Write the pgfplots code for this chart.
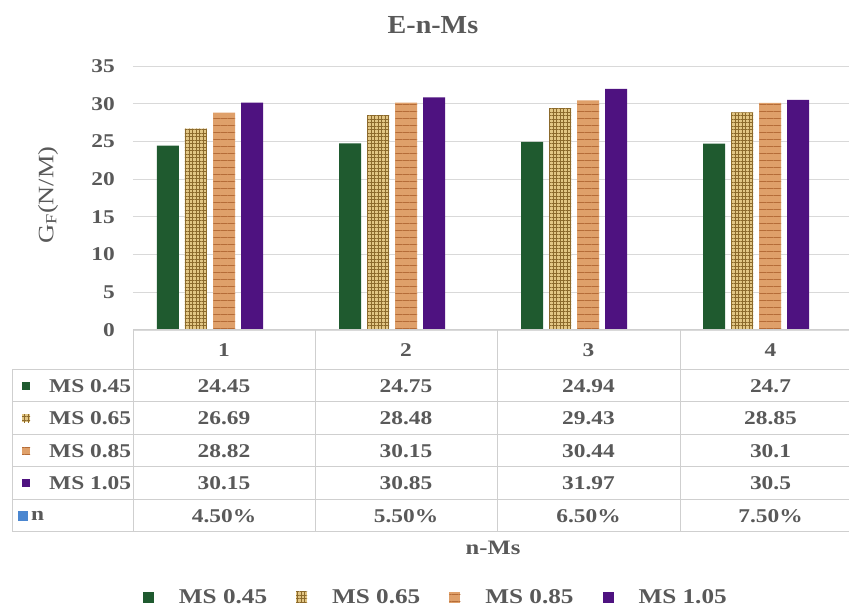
\documentclass[border=0pt]{standalone}
\usepackage{fontspec}
\setmainfont{Liberation Serif}[FakeStretch=1.2]
\newfontfamily\titlefont{Liberation Serif}[FakeStretch=1.08]
\usepackage{pgfplots}
\pgfplotsset{compat=1.18}
\usetikzlibrary{patterns.meta}
\definecolor{txt}{HTML}{595959}
\definecolor{grn}{HTML}{1F5A2F}
\definecolor{bge}{HTML}{E2C684}
\definecolor{bgd}{HTML}{8C6A2C}
\definecolor{org}{HTML}{DFA06A}
\definecolor{ord}{HTML}{B56C38}
\definecolor{prp}{HTML}{4E1280}
\definecolor{grd}{HTML}{D9D9D9}
\definecolor{tbl}{HTML}{CFCFCF}
\definecolor{nblue}{HTML}{4A86D0}
\tikzset{
  s45/.style={fill=grn, draw=none},
  s65/.style={fill=bge, draw=none, postaction={pattern={Hatch[distance=3.5pt,line width=0.9pt]}, pattern color=bgd}},
  s85/.style={fill=org, draw=none, postaction={pattern={Lines[angle=0,distance=7pt,line width=1pt]}, pattern color=ord}},
  s105/.style={fill=prp, draw=none},
}
\newcommand{\tf}{\fontsize{19.5}{21}\selectfont\bfseries}
\begin{document}
\begin{tikzpicture}
\path[use as bounding box] (0pt,0pt) rectangle (849pt,609pt);
\begin{axis}[
  at={(133pt,279pt)}, anchor=south west,
  scale only axis, width=728pt, height=264pt,
  xmin=0.5, xmax=4.5, ymin=0, ymax=35,
  ytick={0,5,...,35}, xtick=\empty,
  ymajorgrids, grid style={grd, line width=0.9pt},
  axis line style={draw=none}, major tick length=0pt,
  /pgf/number format/assume math mode=true,
  yticklabel style={font=\tf, text=txt, anchor=east, inner sep=0pt, xshift=-18pt},
  title={E-n-Ms},
  title style={at={(axis description cs:0.412,1.133)}, anchor=center, font=\titlefont\fontsize{26}{28}\selectfont\bfseries, text=txt},
  ylabel={G\textsubscript{F}(N/M)},
  ylabel style={at={(axis description cs:-0.1168,0.511)}, anchor=center, font=\fontsize{22}{24}\selectfont, text=txt},
  xlabel={n-Ms},
  xlabel style={at={(axis description cs:0.4945,-0.826)}, anchor=center, font=\fontsize{20.5}{22}\selectfont\bfseries, text=txt},
  ybar, bar width=22pt,
  legend columns=4,
  legend image code/.code={\draw[#1, draw=none] (0pt,-5.5pt) rectangle (11pt,5.5pt);},
  legend style={draw=none, fill=none, at={(0.416,-1.012)}, anchor=center,
    font=\fontsize{21}{23}\selectfont\bfseries, text=txt,
    /tikz/every odd column/.append style={column sep=23pt},
    /tikz/every even column/.append style={column sep=27pt}},
]
\addplot[ybar, bar shift=-56pt, s45] coordinates {(1,24.45) (2,24.75) (3,24.94) (4,24.7)};
\addplot[ybar, bar shift=-28pt, s65] coordinates {(1,26.69) (2,28.48) (3,29.43) (4,28.85)};
\addplot[ybar, bar shift=0pt, s85] coordinates {(1,28.82) (2,30.15) (3,30.44) (4,30.1)};
\addplot[ybar, bar shift=28pt, s105] coordinates {(1,30.15) (2,30.85) (3,31.97) (4,30.5)};
\legend{MS 0.45, MS 0.65, MS 0.85, MS 1.05}
\end{axis}
\begin{scope}[x=1pt,y=1pt]
\draw[tbl, line width=1pt] (133,279) -- (861,279);
\foreach \y in {239,207,174,142,109,77} \draw[tbl, line width=1pt] (12,\y) -- (861,\y);
\draw[tbl, line width=1pt] (12,239) -- (12,77);
\foreach \x in {133,315,497,680,861} \draw[tbl, line width=1pt] (\x,279) -- (\x,77);
\foreach \x/\c in {224/1,406/2,588.5/3,770.5/4} \node[text=txt, font=\tf] at (\x,259) {\c};
\foreach \x/\a/\b/\c/\d/\e in {224/24.45/26.69/28.82/30.15/4.50\%, 406/24.75/28.48/30.15/30.85/5.50\%, 588.5/24.94/29.43/30.44/31.97/6.50\%, 770.5/24.7/28.85/30.1/30.5/7.50\%}{
  \node[text=txt, font=\tf] at (\x,223) {\a};
  \node[text=txt, font=\tf] at (\x,190.5) {\b};
  \node[text=txt, font=\tf] at (\x,158) {\c};
  \node[text=txt, font=\tf] at (\x,125.5) {\d};
  \node[text=txt, font=\tf] at (\x,93) {\e};
}
\fill[s45] (22,219) rectangle (30,227);
\fill[s65] (22,186.5) rectangle (30,194.5);
\fill[s85] (22,154) rectangle (30,162);
\fill[s105] (22,121.5) rectangle (30,129.5);
\fill[nblue] (18,88) rectangle (28,98);
\node[text=txt, font=\tf, anchor=west, inner sep=0pt] at (49,223) {MS 0.45};
\node[text=txt, font=\tf, anchor=west, inner sep=0pt] at (49,190.5) {MS 0.65};
\node[text=txt, font=\tf, anchor=west, inner sep=0pt] at (49,158) {MS 0.85};
\node[text=txt, font=\tf, anchor=west, inner sep=0pt] at (49,125.5) {MS 1.05};
\node[text=txt, font=\tf, anchor=west, inner sep=0pt] at (31,93) {n};
\end{scope}
\end{tikzpicture}
\end{document}
